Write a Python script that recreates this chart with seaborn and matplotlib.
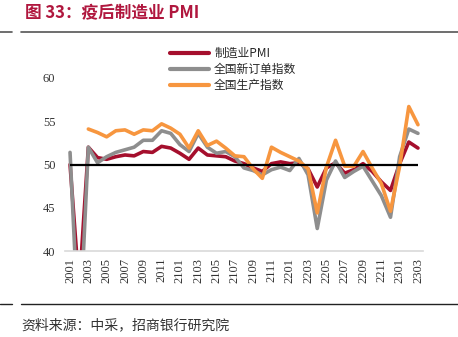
import numpy as np
import pandas as pd
import matplotlib
matplotlib.use("Agg")
import matplotlib.pyplot as plt
import seaborn as sns
from matplotlib.lines import Line2D

months = ["2001", "2002", "2003", "2004", "2005", "2006", "2007", "2008", "2009", "2010", "2011", "2012",
          "2101", "2102", "2103", "2104", "2105", "2106", "2107", "2108", "2109", "2110", "2111", "2112",
          "2201", "2202", "2203", "2204", "2205", "2206", "2207", "2208", "2209", "2210", "2211", "2212",
          "2301", "2302", "2303"]

pmi = [50.0, 35.7, 52.0, 50.8, 50.6, 50.9, 51.1, 51.0, 51.5, 51.4, 52.1, 51.9,
       51.3, 50.6, 51.9, 51.1, 51.0, 50.9, 50.4, 50.1, 49.6, 49.2, 50.1, 50.3,
       50.1, 50.2, 49.5, 47.4, 49.6, 50.2, 49.0, 49.4, 50.1, 49.2, 48.0, 47.0,
       50.1, 52.6, 51.9]

new_orders = [51.4, 29.3, 52.0, 50.2, 50.9, 51.4, 51.7, 52.0, 52.8, 52.8, 53.9, 53.6,
              52.3, 51.5, 53.6, 52.0, 51.3, 51.5, 50.9, 49.6, 49.3, 48.8, 49.4, 49.7,
              49.3, 50.7, 48.8, 42.6, 48.2, 50.4, 48.5, 49.2, 49.8, 48.1, 46.4, 43.9,
              50.9, 54.1, 53.6]

production = [np.nan, np.nan, 54.1, 53.7, 53.2, 53.9, 54.0, 53.5, 54.0, 53.9, 54.7, 54.2,
              53.5, 51.9, 53.9, 52.2, 52.7, 51.9, 51.0, 50.9, 49.5, 48.4, 52.0, 51.4,
              50.9, 50.4, 49.5, 44.4, 49.7, 52.8, 49.8, 49.8, 51.5, 49.6, 47.8, 44.6,
              49.8, 56.7, 54.6]

series_names = ["制造业PMI", "全国新订单指数", "全国生产指数"]
colors = ["#A50F2D", "#8E8E8E", "#F7963F"]
yticks = [40, 45, 50, 55, 60]

df = pd.DataFrame({
    "idx": list(range(len(months))) * 3,
    "value": pmi + new_orders + production,
    "series": [series_names[0]] * len(months) + [series_names[1]] * len(months) + [series_names[2]] * len(months),
})

sns.set_theme(style="white")
cjk = ["Noto Sans CJK SC", "DejaVu Sans"]
serif = ["Liberation Serif", "DejaVu Serif"]
plt.rcParams["font.family"] = cjk

fig = plt.figure(figsize=(4.58, 3.37), dpi=100)
ax = fig.add_axes([65 / 458, 1 - 251 / 337, (423 - 65) / 458, (251 - 78) / 337])

sns.lineplot(data=df, x="idx", y="value", hue="series", hue_order=series_names,
             palette=colors, linewidth=2.6, ax=ax, legend=False, sort=False)
ax.hlines(50, 0, len(months) - 1, color="black", linewidth=1.6, zorder=5)

ax.set_xlim(-0.55, len(months) - 0.45)
ax.set_ylim(40, 60)
ax.set_yticks(yticks)
ax.set_yticklabels([str(v) for v in yticks], fontfamily=serif, fontsize=9, color="#333333")
tick_pos = list(range(0, len(months), 2))
ax.set_xticks(tick_pos)
ax.set_xticklabels([months[i] for i in tick_pos], rotation=90, fontfamily=serif, fontsize=9, color="#333333")
ax.set_xlabel("")
ax.set_ylabel("")
ax.tick_params(axis="x", length=0, pad=5)
ax.tick_params(axis="y", length=0, pad=7)
for s in ["left", "right", "top"]:
    ax.spines[s].set_visible(False)
ax.spines["bottom"].set_color("#D9D9D9")
ax.spines["bottom"].set_linewidth(1.2)
ax.grid(False)

handles = [Line2D([0], [0], color=c, linewidth=3) for c in colors]
fig.legend(handles, series_names, loc="upper left", bbox_to_anchor=(164 / 458, 1 - 41 / 337),
           frameon=False, handlelength=3.3, handletextpad=0.45,
           labelspacing=0.25, borderpad=0, prop={"family": cjk, "size": 8.5})

fig.text(25 / 458, 1 - 13 / 337, "图 33：疫后制造业 PMI", fontsize=12, fontweight="bold",
         color="#B0173E", va="center", ha="left", family=cjk)
fig.add_artist(Line2D([0, 12 / 458], [1 - 32 / 337] * 2, color="#555555", linewidth=1.2))
fig.add_artist(Line2D([21 / 458, 1], [1 - 32 / 337] * 2, color="#555555", linewidth=1.2))
fig.add_artist(Line2D([0, 12 / 458], [1 - 304 / 337] * 2, color="#222222", linewidth=1.0))
fig.add_artist(Line2D([21 / 458, 1], [1 - 304 / 337] * 2, color="#222222", linewidth=1.0))
fig.text(21 / 458, 1 - 325 / 337, "资料来源：中采，招商银行研究院", fontsize=10,
         color="#333333", va="center", ha="left", family=cjk)

fig.savefig("out.png", dpi=100)
